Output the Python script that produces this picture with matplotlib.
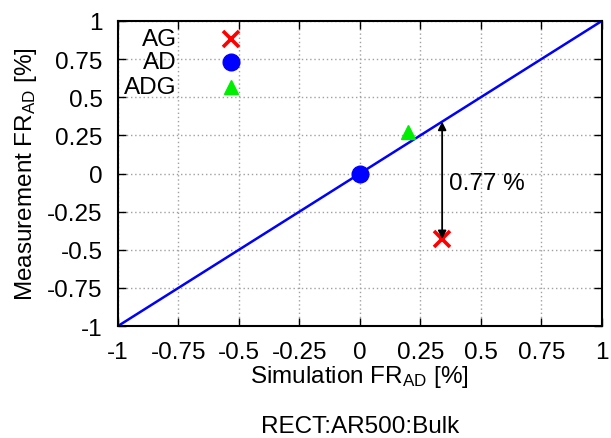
import matplotlib
matplotlib.use("Agg")
import matplotlib.pyplot as plt
import numpy as np

plt.rcParams['font.family'] = ['Liberation Sans', 'DejaVu Sans']
plt.rcParams['mathtext.fontset'] = 'custom'
plt.rcParams['mathtext.rm'] = 'Liberation Sans'
plt.rcParams['mathtext.it'] = 'Liberation Sans'

labels = ["AG", "AD", "ADG"]
sim_vals = [0.34, 0.0, 0.20]
meas_vals = [-0.43, 0.0, 0.27]
colors = ["#ff0000", "#0000ff", "#00ee00"]
markers = ["x", "o", "^"]
ticks = [-1, -0.75, -0.5, -0.25, 0, 0.25, 0.5, 0.75, 1]
tick_labels = ["-1", "-0.75", "-0.5", "-0.25", "0", "0.25", "0.5", "0.75", "1"]
diff_label = "0.77 %"

FS = 17.5

fig = plt.figure(figsize=(6.11, 4.39), dpi=100)
ax = fig.add_axes([0.193, 0.255, 0.792, 0.695])

line = np.array([-1, 1])
ax.plot(line, line, color="#0000ff", lw=1.8, zorder=2)

sizes = [12, 12, 10]
for s, m, c, mk, sz in zip(sim_vals, meas_vals, colors, markers, sizes):
    if mk == "x":
        ax.plot(s, m, marker=mk, color=c, ms=sz, mew=2.6, ls="none", zorder=3)
    else:
        ax.plot(s, m, marker=mk, color=c, ms=sz, ls="none", zorder=3)

# arrow between diagonal and AG point
x_ag = sim_vals[0]
ax.annotate("", xy=(x_ag, meas_vals[0]), xytext=(x_ag, x_ag),
            arrowprops=dict(arrowstyle="<|-|>", color="black", lw=1.3,
                            mutation_scale=12, shrinkA=0, shrinkB=0))
ax.text(x_ag + 0.03, (x_ag + meas_vals[0]) / 2 - 0.02, diff_label, fontsize=FS,
        va="center", ha="left")

# manual legend
leg_y = [0.941, 0.866, 0.784]
for lab, c, mk, sz, yy in zip(labels, colors, markers, sizes, leg_y):
    ax.text(0.122, yy, lab, transform=ax.transAxes, ha="right", va="center",
            fontsize=FS, zorder=5)
    if mk == "x":
        ax.plot(0.233, yy, marker=mk, color=c, ms=sz, mew=2.6,
                transform=ax.transAxes, clip_on=False, zorder=5)
    else:
        ax.plot(0.233, yy, marker=mk, color=c, ms=sz,
                transform=ax.transAxes, clip_on=False, zorder=5)

ax.set_xlim(-1, 1)
ax.set_ylim(-1, 1)
ax.set_xticks(ticks)
ax.set_xticklabels(tick_labels)
ax.set_yticks(ticks)
ax.set_yticklabels(tick_labels)
ax.tick_params(axis="x", direction="in", length=6, width=1, top=True,
               labelsize=FS, pad=11)
ax.tick_params(axis="y", direction="in", length=6, width=1, right=True,
               labelsize=FS, pad=11)
ax.grid(True, color="#a0a0a0", linestyle=(0, (1, 2)), lw=1)
for sp in ax.spines.values():
    sp.set_linewidth(1.5)

ax.set_xlabel(r"Simulation FR$_{\mathrm{AD}}$ [%]", fontsize=FS, labelpad=0)
ax.set_ylabel(r"Measurement FR$_{\mathrm{AD}}$ [%]", fontsize=FS, labelpad=6)
fig.text(0.59, 0.028, "RECT:AR500:Bulk", ha="center", va="center", fontsize=FS)

fig.savefig("out.png", dpi=100)
